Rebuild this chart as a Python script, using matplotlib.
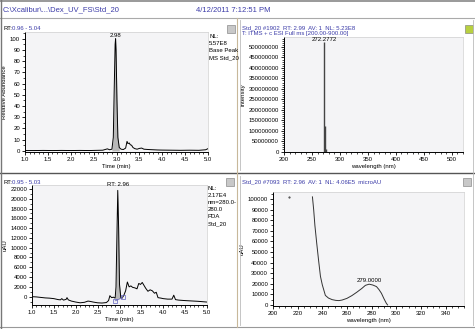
import matplotlib
matplotlib.use("Agg")
import matplotlib.pyplot as plt
from matplotlib.patches import Rectangle
from matplotlib.lines import Line2D
from matplotlib.ticker import MultipleLocator

plt.rcParams['font.family'] = ['Liberation Sans', 'DejaVu Sans']

# data
# top left: base peak chromatogram (relative abundance)
tic_time = [1.0, 1.2, 1.4, 1.6, 1.8, 2.0, 2.2, 2.4, 2.6, 2.7, 2.75, 2.8, 2.85, 2.9,
            2.93, 2.95, 2.97, 2.98, 2.99, 3.01, 3.03, 3.06, 3.1, 3.15, 3.2, 3.23, 3.25,
            3.28, 3.3, 3.33, 3.36, 3.4, 3.45, 3.5, 3.55, 3.6, 3.7, 3.8, 3.9, 4.0, 4.2,
            4.4, 4.6, 4.8, 4.95, 5.0]
tic_rel = [0.3, 0.3, 0.4, 0.3, 0.4, 0.3, 0.4, 0.3, 0.5, 0.6, 1.2, 1.8, 1.0, 1.5,
           12, 55, 95, 100, 90, 45, 12, 3, 1.5, 1.2, 2.5, 8.5, 6.5,
           7, 5.5, 5, 3, 2, 1.5, 2.2, 2.5, 1.5, 1.2, 1.0, 0.8, 0.7, 0.6,
           0.5, 0.6, 0.5, 1.0, 2.0]

# top right: mass spectrum
ms_mz = [272.2772, 273.28, 274.28]
ms_int = [5.23e8, 1.2e8, 0.1e8]

# bottom left: PDA chromatogram (uAU)
uv_time = [1.0, 1.1, 1.2, 1.3, 1.4, 1.5, 1.6, 1.65, 1.68, 1.72, 1.78, 1.8, 1.83, 1.9,
           2.0, 2.1, 2.2, 2.28, 2.32, 2.4, 2.5, 2.6, 2.7, 2.75, 2.78, 2.82, 2.86, 2.9,
           2.92, 2.94, 2.96, 2.98, 3.0, 3.03, 3.06, 3.1, 3.14, 3.18, 3.22, 3.26, 3.3,
           3.35, 3.4, 3.44, 3.48, 3.52, 3.56, 3.6, 3.65, 3.7, 3.75, 3.8, 3.84, 3.88,
           3.95, 4.0, 4.1, 4.2, 4.24, 4.28, 4.35, 4.5, 4.6, 4.8, 5.0]
uv_val = [0, -50, -150, -250, -300, -400, -600, -650, -400, -700, -550, -200, -650, -900,
          -1100, -1250, -1150, -900, -950, -1100, -1250, -1300, -1200, -800, 200, -200, -100, -300,
          2000, 12000, 21700, 14000, 2500, -200, -300, 300, 1200, 3000, 2000, 2200, 1900,
          1800, 1600, 2700, 2500, 2900, 2300, 1700, 1100, 1400, 1200, 700, 900, -200,
          -300, -400, -500, -500, 300, -600, -700, -800, -850, -950, -1100]
uv_marks_t = [2.90, 3.07]
uv_marks_v = [-850, -150]

# bottom right: UV spectrum
wl = [232, 233, 234, 235.5, 237, 238.5, 240, 242.5, 245, 248, 251, 253.5, 256, 260,
      264, 268, 272, 275, 278, 281, 284, 286, 288, 290, 292, 293]
absorb = [102000, 90000, 75000, 58000, 42000, 27000, 19000, 9000, 6500, 5000, 4300, 4100,
          4600, 6200, 8800, 12000, 15500, 18500, 19600, 18800, 17300, 14500, 11000, 6000,
          1500, 0]

W, H = 475, 329
BLUE = '#3b3ba8'
BG = '#f4f4f6'
FS = 4.3

fig = plt.figure(figsize=(W / 100, H / 100), dpi=100)


def box(x0, y0, x1, y1):
    return [x0 / W, 1 - y1 / H, (x1 - x0) / W, (y1 - y0) / H]


def txt(x, y, s, **kw):
    kw.setdefault('fontsize', 5)
    kw.setdefault('va', 'center')
    fig.text(x / W, 1 - y / H, s, **kw)


def hline(x0, x1, y, c='#999999', lw=0.8):
    fig.add_artist(Line2D([x0 / W, x1 / W], [1 - y / H, 1 - y / H], color=c, lw=lw))


def vline(x, y0, y1, c='#999999', lw=0.8):
    fig.add_artist(Line2D([x / W, x / W], [1 - y0 / H, 1 - y1 / H], color=c, lw=lw))


def icon(x, y, fc='#c8c8c8'):
    fig.add_artist(Rectangle((x / W, 1 - (y + 8) / H), 8 / W, 8 / H, fc=fc, ec='#777777', lw=0.4))


def style(ax, xmaj, xmin, ymaj, ymin):
    ax.set_facecolor(BG)
    ax.xaxis.set_major_locator(MultipleLocator(xmaj))
    ax.xaxis.set_minor_locator(MultipleLocator(xmin))
    ax.yaxis.set_major_locator(MultipleLocator(ymaj))
    ax.yaxis.set_minor_locator(MultipleLocator(ymin))
    ax.tick_params(which='major', length=2.5, width=0.6, labelsize=FS, pad=1)
    ax.tick_params(which='minor', length=1.3, width=0.5)
    for s in ['top', 'right']:
        ax.spines[s].set_color('#d0d0d0')
        ax.spines[s].set_linewidth(0.5)
    for s in ['left', 'bottom']:
        ax.spines[s].set_linewidth(0.7)


# frame lines
hline(0, W, 1, c='#888888', lw=1.2)
hline(0, W, 18, c='#aaaaaa')
hline(0, W, 173, c='#555555', lw=1.0)
hline(0, W, 327, c='#999999')
vline(1, 0, 329, c='#777777', lw=1.0)
vline(237, 18, 327, c='#c8b89a', lw=0.8)
vline(240, 20, 170, c='#bbbbbb', lw=0.6)
vline(240, 176, 325, c='#bbbbbb', lw=0.6)
vline(473, 20, 325, c='#bbbbbb', lw=0.6)

txt(3, 10, r'C:\Xcalibur\...\Dex_UV_FS\Std_20', color=BLUE, fontsize=5.5)
txt(196, 10, '4/12/2011 7:12:51 PM', color=BLUE, fontsize=5.5)

# ---- top left
txt(3, 28, 'RT:', fontsize=FS)
txt(12, 28, '0.96 - 5.04', fontsize=FS, color=BLUE)
ax1 = fig.add_axes(box(25, 32, 208, 152))
ax1.fill_between(tic_time, tic_rel, 0, where=[2.9 <= t <= 3.06 for t in tic_time],
                 color='#b8b8b8', lw=0)
ax1.plot(tic_time, tic_rel, color='black', lw=0.7)
ax1.set_xlim(1.0, 5.0)
ax1.set_ylim(-1, 106)
style(ax1, 0.5, 0.1, 10, 5)
ax1.xaxis.set_major_formatter(lambda v, p: f'{v:.1f}')
ax1.text(2.98, 101, '2.98', fontsize=FS, ha='center', va='bottom')
ax1.set_xlabel('Time (min)', fontsize=FS, labelpad=1.5)
ax1.set_ylabel('Relative Abundance', fontsize=FS, labelpad=2)
txt(209, 34, 'NL:\n5.57E8\nBase Peak\nMS Std_20', fontsize=FS, va='top', linespacing=1.5)
icon(227, 25)

# ---- top right
txt(242, 28, 'Std_20 #1902  RT: 2.99  AV: 1  NL: 5.23E8', fontsize=FS, color=BLUE)
txt(242, 33.5, 'T: ITMS + c ESI Full ms [200.00-900.00]', fontsize=FS, color=BLUE)
ax2 = fig.add_axes(box(284, 37, 463, 152))
ax2.vlines(ms_mz, 0, ms_int, color='#444444', lw=1.0)
ax2.set_xlim(200, 520)
ax2.set_ylim(-2e6, 548e6)
style(ax2, 50, 10, 50e6, 10e6)
ax2.yaxis.set_major_formatter(lambda v, p: f'{v:.0f}')
ax2.text(ms_mz[0], ms_int[0] + 3e6, f'{ms_mz[0]:.4f}', fontsize=FS, ha='center', va='bottom')
ax2.set_xlabel('wavelength (nm)', fontsize=FS, labelpad=1.5)
ax2.set_ylabel('Intensity', fontsize=FS, labelpad=2)
icon(465, 25, fc='#b8d040')

# ---- bottom left
txt(3, 182, 'RT:', fontsize=FS)
txt(12, 182, '0.95 - 5.03', fontsize=FS, color=BLUE)
ax3 = fig.add_axes(box(32, 185, 207, 305))
base_v = [uv_marks_v[0] + (t - uv_marks_t[0]) * (uv_marks_v[1] - uv_marks_v[0]) /
          (uv_marks_t[1] - uv_marks_t[0]) for t in uv_time]
ax3.fill_between(uv_time, uv_val, base_v,
                 where=[uv_marks_t[0] <= t <= uv_marks_t[1] for t in uv_time],
                 color='#b8b8b8', lw=0)
ax3.plot(uv_time, uv_val, color='black', lw=0.7)
ax3.plot(uv_marks_t, uv_marks_v, color='#7070c0', lw=0.5, marker='s', ms=2.5,
         mfc='none', mec='#6060c0', mew=0.5)
ax3.set_xlim(1.0, 5.0)
ax3.set_ylim(-1700, 22800)
style(ax3, 0.5, 0.1, 2000, 1000)
ax3.xaxis.set_major_formatter(lambda v, p: f'{v:.1f}')
ax3.text(2.96, 22300, 'RT: 2.96', fontsize=FS, ha='center', va='bottom')
ax3.set_xlabel('Time (min)', fontsize=FS, labelpad=1.5)
ax3.set_ylabel('uAU', fontsize=FS, labelpad=2)
txt(208, 186, 'NL:\n2.17E4\nnm=280.0-\n280.0\nPDA\nStd_20', fontsize=FS, va='top', linespacing=1.5)
icon(226, 178)

# ---- bottom right
txt(242, 182, 'Std_20 #7093  RT: 2.96  AV: 1  NL: 4.06E5  microAU', fontsize=FS, color=BLUE)
ax4 = fig.add_axes(box(273, 192, 464, 306))
ax4.plot(wl, absorb, color='#333333', lw=0.7)
ax4.plot([213], [101500], marker='.', ms=1, color='#333333')
ax4.set_xlim(200, 355)
ax4.set_ylim(-1000, 106600)
style(ax4, 20, 5, 10000, 5000)
ax4.text(278, 20500, '279.0000', fontsize=FS, ha='center', va='bottom')
ax4.set_xlabel('wavelength (nm)', fontsize=FS, labelpad=1.5)
ax4.set_ylabel('uAU', fontsize=FS, labelpad=2)
icon(463, 178)

fig.savefig('out.png', dpi=100)
